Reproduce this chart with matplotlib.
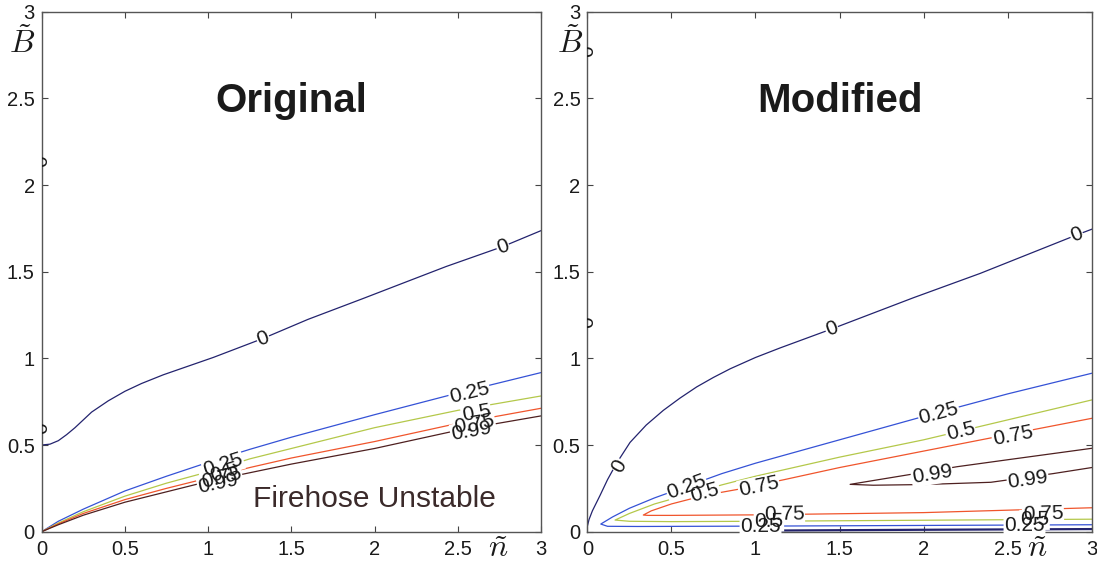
import numpy as np
import matplotlib
matplotlib.use("Agg")
import matplotlib.pyplot as plt

plt.rcParams["font.family"] = ["Liberation Sans", "DejaVu Sans"]
plt.rcParams["mathtext.fontset"] = "cm"

# ---------------- data ----------------
levels = ["0", "0.25", "0.5", "0.75", "0.99"]
level_colors = ["#23236e", "#3552d6", "#b4c84a", "#f0552c", "#4e2020"]

# Original model: contour curves (n, B)
orig_0_n = [0.0, 0.05, 0.1, 0.15, 0.2, 0.25, 0.3, 0.4, 0.5, 0.6, 0.73, 0.88, 1.03, 1.33,
            1.6, 1.93, 2.2, 2.43, 2.77, 3.0]
orig_0_b = [0.50, 0.505, 0.525, 0.56, 0.60, 0.645, 0.69, 0.755, 0.81, 0.855, 0.905, 0.955,
            1.005, 1.115, 1.225, 1.345, 1.445, 1.53, 1.645, 1.737]

orig_n = [0.0, 0.1, 0.25, 0.5, 0.75, 1.0, 1.25, 1.5, 2.0, 2.5, 3.0]
orig_025_b = [0.0, 0.06, 0.13, 0.235, 0.32, 0.40, 0.475, 0.545, 0.675, 0.80, 0.918]
orig_050_b = [0.0, 0.05, 0.115, 0.205, 0.28, 0.345, 0.42, 0.48, 0.60, 0.70, 0.783]
orig_075_b = [0.0, 0.045, 0.105, 0.185, 0.25, 0.31, 0.37, 0.425, 0.52, 0.625, 0.712]
orig_099_b = [0.0, 0.04, 0.095, 0.17, 0.23, 0.29, 0.34, 0.39, 0.48, 0.585, 0.668]

# Modified model: contour curves (n, B)
mod_0_n = [0.0, 0.01, 0.03, 0.076, 0.12, 0.174, 0.254, 0.35, 0.452, 0.55, 0.65, 0.75, 0.85,
           1.0, 1.146, 1.454, 1.94, 2.336, 2.91, 3.0]
mod_0_b = [0.03, 0.07, 0.12, 0.21, 0.30, 0.395, 0.515, 0.615, 0.70, 0.77, 0.835, 0.89, 0.94,
           1.005, 1.06, 1.17, 1.35, 1.49, 1.712, 1.745]
mod_0_low_n = [1.0, 1.6, 2.0, 2.5, 3.0]
mod_0_low_b = [0.006, 0.009, 0.011, 0.013, 0.015]

mod_025_n = [3.0, 2.0, 1.0, 0.3, 0.12, 0.08, 0.15, 0.25, 0.4, 0.6, 0.8, 1.0, 1.5, 2.0, 2.5, 3.0]
mod_025_b = [0.040, 0.036, 0.032, 0.030, 0.031, 0.044, 0.085, 0.135, 0.195, 0.265, 0.335,
             0.395, 0.53, 0.665, 0.795, 0.914]

mod_050_n = [3.0, 2.0, 1.0, 0.5, 0.25, 0.165, 0.25, 0.4, 0.6, 0.8, 1.0, 1.5, 2.0, 2.5, 3.0]
mod_050_b = [0.072, 0.066, 0.060, 0.058, 0.060, 0.067, 0.105, 0.16, 0.215, 0.27, 0.32, 0.43,
             0.53, 0.645, 0.76]

mod_075_n = [3.0, 2.0, 1.0, 0.5, 0.36, 0.333, 0.38, 0.5, 0.7, 0.9, 1.17, 1.5, 2.0, 2.5, 3.0]
mod_075_b = [0.138, 0.11, 0.097, 0.094, 0.094, 0.096, 0.12, 0.16, 0.21, 0.245, 0.30, 0.37,
             0.465, 0.56, 0.654]

mod_099_n = [3.0, 2.77, 2.4, 2.0, 1.7, 1.563, 1.7, 1.92, 2.2, 2.5, 3.0]
mod_099_b = [0.37, 0.335, 0.285, 0.272, 0.268, 0.273, 0.295, 0.33, 0.375, 0.415, 0.481]

# inline contour labels: text, n, B, curve key
orig_lab_text = ["0", "0", "0.25", "0.5", "0.75", "0.99", "0.25", "0.5", "0.75", "0.99"]
orig_lab_n = [1.33, 2.77, 1.09, 1.10, 1.08, 1.06, 2.57, 2.61, 2.60, 2.58]
orig_lab_b = [1.115, 1.645, 0.385, 0.34, 0.31, 0.278, 0.80, 0.686, 0.62, 0.58]
orig_lab_key = ["0", "0", "0.25", "0.5", "0.75", "0.99", "0.25", "0.5", "0.75", "0.99"]

mod_lab_text = ["0", "0", "0", "0.25", "0.25", "0.5", "0.5", "0.75", "0.75", "0.99", "0.99",
                "0.75", "0.5", "0.25", "0.75", "0.5", "0.25"]
mod_lab_n = [0.19, 1.454, 2.91, 2.09, 0.59, 2.22, 0.70, 2.53, 1.02, 2.05, 2.62,
             1.17, 1.08, 1.03, 2.71, 2.66, 2.60]
mod_lab_b = [0.38, 1.17, 1.712, 0.683, 0.26, 0.577, 0.227, 0.552, 0.26, 0.33, 0.298,
             0.098, 0.06, 0.03, 0.105, 0.068, 0.035]
mod_lab_key = ["0", "0", "0", "0.25", "0.25", "0.5", "0.5", "0.75", "0.75", "0.99", "0.99",
               "0.75", "0.5", "0.25", "0.75", "0.5", "0.25"]

# labels of the zero contour lying on the n = 0 edge
orig_edge_b = [2.14, 0.60]
mod_edge_b = [2.77, 1.21]

ticks = [0, 0.5, 1, 1.5, 2, 2.5, 3]
tick_labels = ["0", "0.5", "1", "1.5", "2", "2.5", "3"]

# ---------------- drawing ----------------
fig = plt.figure(figsize=(10.97, 5.67), dpi=100)
ax_o = fig.add_axes([0.038, 0.0623, 0.4552, 0.917])
ax_m = fig.add_axes([0.5354, 0.0623, 0.4598, 0.917])

color_of = dict(zip(levels, level_colors))
LABEL_SIZE = 15


def curve_angle(ax, xs, ys, x, y):
    pts = ax.transData.transform(np.column_stack([xs, ys]))
    p = ax.transData.transform((x, y))
    best_d, best_v = None, None
    for i in range(len(pts) - 1):
        a, b = pts[i], pts[i + 1]
        v = b - a
        t = np.clip(np.dot(p - a, v) / max(np.dot(v, v), 1e-9), 0, 1)
        d = np.linalg.norm(a + t * v - p)
        if best_d is None or d < best_d:
            best_d, best_v = d, v
    ang = np.degrees(np.arctan2(best_v[1], best_v[0]))
    if ang > 90:
        ang -= 180
    if ang < -90:
        ang += 180
    return ang


def style_axes(ax):
    ax.set_xlim(0, 3)
    ax.set_ylim(0, 3)
    ax.set_xticks(ticks)
    ax.set_xticklabels(tick_labels)
    ax.set_yticks(ticks)
    ax.set_yticklabels(tick_labels)
    ax.tick_params(direction="in", top=True, right=True, length=4, width=0.8,
                   color="#444444", labelsize=14.5, labelcolor="#1a1a1a")
    ax.tick_params(axis="x", pad=6)
    ax.tick_params(axis="y", pad=5)
    for s in ax.spines.values():
        s.set_color("#555555")
        s.set_linewidth(1.0)


def draw_labels(ax, curves, texts, ns, bs, keys, edge_b):
    for s, x, y, k in zip(texts, ns, bs, keys):
        xs, ys = curves[k]
        ang = curve_angle(ax, xs, ys, x, y)
        ax.text(x, y, s, rotation=ang, rotation_mode="anchor", ha="center", va="center",
                fontsize=LABEL_SIZE, color="white", zorder=3,
                bbox=dict(fc="white", ec="none", pad=0.4))
        ax.text(x, y, s, rotation=ang, rotation_mode="anchor", ha="center", va="center",
                fontsize=LABEL_SIZE, color="#1a1a1a", zorder=4)
    for y in edge_b:
        ax.text(0, y, "0", rotation=90, ha="center", va="center", fontsize=LABEL_SIZE,
                color="#1a1a1a", zorder=4, clip_on=True)


for ax in (ax_o, ax_m):
    style_axes(ax)

# Original panel
orig_curves = {
    "0": (orig_0_n, orig_0_b),
    "0.25": (orig_n, orig_025_b),
    "0.5": (orig_n, orig_050_b),
    "0.75": (orig_n, orig_075_b),
    "0.99": (orig_n, orig_099_b),
}
for k, (xs, ys) in orig_curves.items():
    ax_o.plot(xs, ys, color=color_of[k], lw=0.9, zorder=2)
draw_labels(ax_o, orig_curves, orig_lab_text, orig_lab_n, orig_lab_b, orig_lab_key, orig_edge_b)

# Modified panel
mod_curves = {
    "0": (mod_0_n, mod_0_b),
    "0.25": (mod_025_n, mod_025_b),
    "0.5": (mod_050_n, mod_050_b),
    "0.75": (mod_075_n, mod_075_b),
    "0.99": (mod_099_n, mod_099_b),
}
for k, (xs, ys) in mod_curves.items():
    ax_m.plot(xs, ys, color=color_of[k], lw=0.9, zorder=2)
ax_m.plot(mod_0_low_n, mod_0_low_b, color=color_of["0"], lw=1.6, zorder=2, clip_on=True)
draw_labels(ax_m, mod_curves, mod_lab_text, mod_lab_n, mod_lab_b, mod_lab_key, mod_edge_b)

# panel annotations
ax_o.text(1.5, 2.42, "Original", fontsize=29, fontweight="bold", ha="center",
          va="baseline", color="#1a1a1a")
ax_m.text(1.5, 2.42, "Modified", fontsize=29, fontweight="bold", ha="center",
          va="baseline", color="#1a1a1a")
ax_o.text(2.0, 0.144, "Firehose Unstable", fontsize=21.5, ha="center", va="baseline",
          color="#3b2a2a", zorder=5)

# axis symbols
for xf in (21.7 / 1097, 570 / 1097):
    fig.text(xf, 1 - 44 / 567, r"$\tilde{B}$", fontsize=23, ha="center", va="center",
             color="#1a1a1a")
for xf in (498 / 1097, 1037 / 1097):
    fig.text(xf, 1 - 549 / 567, r"$\tilde{n}$", fontsize=23, ha="center", va="center",
             color="#1a1a1a")

fig.savefig("out.png", dpi=100, facecolor="white")
